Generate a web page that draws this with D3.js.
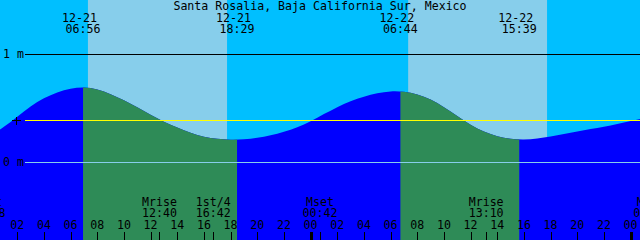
<!DOCTYPE html>
<html>
<head>
<meta charset="utf-8">
<script src="https://cdn.jsdelivr.net/npm/d3@7"></script>
<style>
  body { margin: 0; background: #fff; }
  svg text { font-family: "DejaVu Sans Mono", monospace; font-size: 11.6px; fill: #000; }
</style>
</head>
<body>
<svg id="tide" width="640" height="240"></svg>
<script>
// hours since 12-21 00:00, tide height in metres
const tideHours = d3.range(0, 50);
const tideHeights = [
  0.241, 0.324, 0.417, 0.519, 0.593, 0.648, 0.681, 0.694, 0.676, 0.630,
  0.574, 0.509, 0.435, 0.370, 0.319, 0.269, 0.231, 0.213, 0.204, 0.208,
  0.222, 0.245, 0.278, 0.319, 0.375, 0.444, 0.509, 0.565, 0.606, 0.639,
  0.657, 0.653, 0.630, 0.583, 0.509, 0.426, 0.343, 0.278, 0.236, 0.213,
  0.206, 0.216, 0.236, 0.259, 0.282, 0.306, 0.324, 0.352, 0.380, 0.407
];
const meanLevel = 0.39;

// sun events (top labels), day offset from 12-21
const sunDates = ["12-21", "12-21", "12-22", "12-22"];
const sunTimes = ["06:56", "18:29", "06:44", "15:39"];
const sunDays = [0, 0, 1, 1];

// light sky bands
const skyStart = ["07:18", "07:19"];
const skyEnd = ["17:44", "17:44"];
const skyDays = [0, 1];

// moon events (bottom labels)
const moonNames = ["Mset", "Mrise", "1st/4", "Mset", "Mrise", "Mset"];
const moonTimes = ["23:48", "12:40", "16:42", "00:42", "13:10", "01:30"];
const moonDays = [-1, 0, 0, 1, 1, 2];

const tickHours = d3.range(0, 50, 2);
const title = "Santa Rosalia, Baja California Sur, Mexico";

const toHour = (t, day) => {
  const [h, m] = t.split(":").map(Number);
  return day * 24 + h + m / 60;
};

const svg = d3.select("#tide");
const W = 640, H = 240;

const x = d3.scaleLinear().domain([0, 48]).range([-9.4, 630.6]);
const y = d3.scaleLinear().domain([0, 1]).range([162, 54]);

// sky
svg.append("rect").attr("width", W).attr("height", H).attr("fill", "#00bfff");
svg.selectAll("rect.sky")
  .data(skyStart.map((s, i) => [toHour(s, skyDays[i]), toHour(skyEnd[i], skyDays[i])]))
  .enter().append("rect")
  .attr("class", "sky")
  .attr("x", d => x(d[0]))
  .attr("width", d => x(d[1]) - x(d[0]))
  .attr("y", 0).attr("height", H)
  .attr("fill", "#87ceeb");

// tide area
const tide = tideHours.map((h, i) => [h, tideHeights[i]]);
const area = d3.area()
  .x(d => x(d[0]))
  .y0(H)
  .y1(d => y(d[1]))
  .curve(d3.curveBasis);

const dayBands = [[toHour(sunTimes[0], sunDays[0]), toHour(sunTimes[1], sunDays[1])],
                  [toHour(sunTimes[2], sunDays[2]), toHour(sunTimes[3], sunDays[3])]];

const clip = svg.append("clipPath").attr("id", "dayclip");
clip.selectAll("rect").data(dayBands).enter().append("rect")
  .attr("x", d => x(d[0]))
  .attr("width", d => x(d[1]) - x(d[0]))
  .attr("y", 0).attr("height", H);

svg.append("path").datum(tide).attr("d", area).attr("fill", "#0000ff");
svg.append("path").datum(tide).attr("d", area).attr("fill", "#2e8b57")
  .attr("clip-path", "url(#dayclip)");

// level lines
const lineX0 = 25;
svg.append("line").attr("x1", lineX0).attr("x2", W)
  .attr("y1", y(1) + 0.5).attr("y2", y(1) + 0.5)
  .attr("stroke", "#000").attr("shape-rendering", "crispEdges");
svg.append("line").attr("x1", lineX0).attr("x2", W)
  .attr("y1", y(0) + 0.5).attr("y2", y(0) + 0.5)
  .attr("stroke", "#87ceeb").attr("shape-rendering", "crispEdges");
svg.append("line").attr("x1", lineX0).attr("x2", W)
  .attr("y1", Math.round(y(meanLevel)) + 0.5).attr("y2", Math.round(y(meanLevel)) + 0.5)
  .attr("stroke", "#ffff00").attr("stroke-width", 1.3).attr("shape-rendering", "crispEdges");

// mean marker
const my = Math.round(y(meanLevel)) + 0.5;
svg.append("path")
  .attr("d", `M12,${my}H21M16.5,${my - 4}V${my + 4}`)
  .attr("stroke", "#000").attr("shape-rendering", "crispEdges");

svg.append("text").attr("x", 3).attr("y", y(1) + 3.5).text("1 m");
svg.append("text").attr("x", 3).attr("y", y(0) + 3.5).text("0 m");

// title and sun labels
svg.append("text").attr("x", 320).attr("y", 10).attr("text-anchor", "middle").text(title);

const sunG = svg.selectAll("g.sun")
  .data(sunTimes.map((t, i) => ({ date: sunDates[i], time: t, h: toHour(t, sunDays[i]) })))
  .enter().append("g").attr("class", "sun");
sunG.append("text").attr("x", d => x(d.h) - 3.5).attr("y", 22)
  .attr("text-anchor", "middle").text(d => d.date);
sunG.append("text").attr("x", d => x(d.h)).attr("y", 33)
  .attr("text-anchor", "middle").text(d => d.time);

// moon labels
const moon = moonTimes.map((t, i) => ({ name: moonNames[i], time: t, h: toHour(t, moonDays[i]) }));
const moonG = svg.selectAll("g.moon").data(moon).enter().append("g").attr("class", "moon");
moonG.append("text").attr("x", d => x(d.h)).attr("y", 206)
  .attr("text-anchor", "middle").text(d => d.name);
moonG.append("text").attr("x", d => x(d.h)).attr("y", 217)
  .attr("text-anchor", "middle").text(d => d.time);
moonG.append("line")
  .attr("x1", d => Math.round(x(d.h)) + 0.5).attr("x2", d => Math.round(x(d.h)) + 0.5)
  .attr("y1", 232).attr("y2", H)
  .attr("stroke", "#000").attr("shape-rendering", "crispEdges");

// hour axis
const tickG = svg.selectAll("g.tick").data(tickHours).enter().append("g").attr("class", "tick");
tickG.append("text").attr("x", d => x(d)).attr("y", 229)
  .attr("text-anchor", "middle").text(d => d3.format("02d")(d % 24));
tickG.append("line")
  .attr("x1", d => Math.round(x(d)) + 0.5).attr("x2", d => Math.round(x(d)) + 0.5)
  .attr("y1", 232).attr("y2", H)
  .attr("stroke", "#000")
  .attr("stroke-width", d => d % 24 === 0 ? 3 : 1)
  .attr("shape-rendering", "crispEdges");
</script>
</body>
</html>
